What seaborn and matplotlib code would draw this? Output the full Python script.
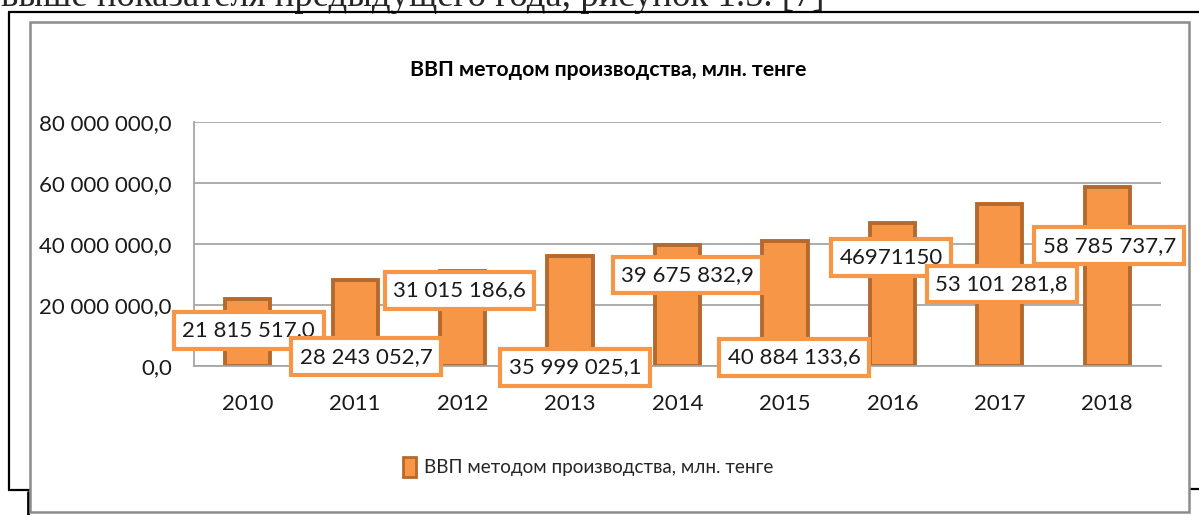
"""
ВВП методом производства (2010-2018), bar chart with boxed data labels.
"""

import matplotlib.pyplot as plt
import seaborn as sns
from matplotlib.lines import Line2D
from matplotlib.patches import Patch, Rectangle
from matplotlib.ticker import FixedLocator

# ============================================================
# DATA
# ============================================================

years = ["2010", "2011", "2012", "2013", "2014", "2015", "2016", "2017", "2018"]
gdp_values = [21815517.0, 28243052.7, 31015186.6, 35999025.1, 39675832.9,
              40884133.6, 46971150.0, 53101281.8, 58785737.7]
value_labels = ["21 815 517,0", "28 243 052,7", "31 015 186,6", "35 999 025,1",
                "39 675 832,9", "40 884 133,6", "46971150", "53 101 281,8",
                "58 785 737,7"]
y_ticks = [0, 20000000, 40000000, 60000000, 80000000]

title_text = "ВВП методом производства, млн. тенге"
series_name = "ВВП методом производства, млн. тенге"
page_text = "выше показателя предыдущего года, рисунок 1.5. [7]"

# ============================================================
# STYLE
# ============================================================

BAR_COLOR = "#F79646"
BAR_EDGE = "#B46A2E"
GRID_COLOR = "#A6A6A6"
TEXT_COLOR = "#1a1a1a"
FONT = ["Lato", "DejaVu Sans"]

# label box offsets from the bar top, in pixels (Excel placed them oddly)
label_offsets = [(1, -31), (11, -77), (-3, -19), (5, -111), (10, -30),
                 (9, -116), (-1, -35), (2, -80), (2, -59)]

W, H = 1199, 515

sns.set_style("white")
plt.rcParams["font.family"] = FONT

fig = plt.figure(figsize=(W / 100, H / 100), dpi=100)

# page frames (document screenshot)
for xs, ys, lw in [([9, 9], [12, 490], 1.6), ([9, W], [12, 12], 1.6),
                   ([9, 30], [490, 490], 1.6), ([1189, W], [489, 489], 1.6),
                   ([28, 28], [492, H], 2.0)]:
    fig.add_artist(Line2D([x / W for x in xs], [1 - y / H for y in ys],
                          color="black", lw=lw, zorder=-2))
frame = Rectangle((30 / W, 1 - 512 / H), (1189 - 30) / W, (512 - 22) / H,
                  transform=fig.transFigure, fc="white", ec="#8C8C8C", lw=1.8, zorder=-1)
fig.add_artist(frame)
# document text line above the chart, cut by the screenshot edge
fig.text(1 / W, 1 - 6 / H, page_text, family=["Liberation Serif", "DejaVu Serif"],
         fontsize=26.5, va="baseline", ha="left", zorder=-3)

# ============================================================
# BARS
# ============================================================

ax = fig.add_axes([194 / W, 1 - 366 / H, (1161 - 194) / W, (366 - 122) / H])
ax.set_facecolor("none")

sns.barplot(x=years, y=gdp_values, color=BAR_COLOR, saturation=1, width=0.42,
            edgecolor=BAR_EDGE, linewidth=2.8, ax=ax, zorder=2)

ax.set_xlim(-0.5, len(years) - 0.5)
ax.set_ylim(0, 80000000)
ax.set_yticks(y_ticks)
ax.set_yticklabels([f"{v:,.1f}".replace(",", " ").replace(".", ",") for v in y_ticks])
ax.yaxis.grid(True, color=GRID_COLOR, lw=1.3, zorder=0)
ax.set_axisbelow(True)

for side in ["top", "right"]:
    ax.spines[side].set_visible(False)
for side in ["left", "bottom"]:
    ax.spines[side].set_color(GRID_COLOR)
    ax.spines[side].set_linewidth(1.3)

ax.tick_params(axis="y", length=8, width=1.3, color=GRID_COLOR, pad=8,
               labelsize=16, labelcolor=TEXT_COLOR)
ax.tick_params(axis="x", which="major", length=0, pad=20, labelsize=16,
               labelcolor=TEXT_COLOR)
ax.xaxis.set_minor_locator(FixedLocator([i + 0.5 for i in range(len(years))]))
ax.tick_params(axis="x", which="minor", length=7, width=1.3, color=GRID_COLOR)
ax.set_xlabel("")
ax.set_ylabel("")

# boxed data labels
for i, (val, txt, (dx, dy)) in enumerate(zip(gdp_values, value_labels, label_offsets)):
    ax.annotate(txt, xy=(i, val), xytext=(dx, dy), textcoords="offset pixels",
                ha="center", va="center", fontsize=16, color=TEXT_COLOR,
                annotation_clip=False, zorder=5 + i,
                bbox=dict(boxstyle="square,pad=0.38", fc="white", ec=BAR_COLOR, lw=3))

fig.text(608 / W, 1 - 70 / H, title_text, ha="center", va="center",
         fontsize=15.3, fontweight="bold", color="black")

handle = Patch(facecolor=BAR_COLOR, edgecolor=BAR_EDGE, linewidth=2)
ax.legend([handle], [series_name], loc="center", frameon=False,
          bbox_to_anchor=(588 / W, 1 - 467 / H), bbox_transform=fig.transFigure,
          fontsize=13.6, handlelength=0.7, handleheight=1.3, handletextpad=0.4)

fig.savefig("out.png", dpi=100)
